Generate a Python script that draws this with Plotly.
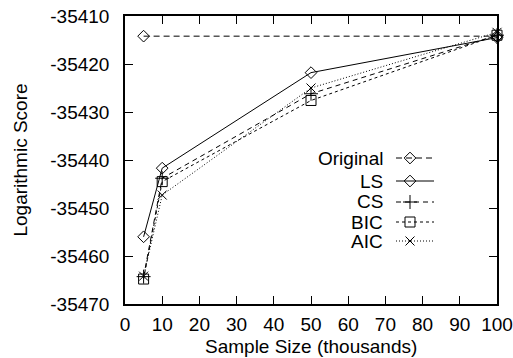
import plotly.graph_objects as go

# ---- data ----
sample_sizes = [5, 10, 50, 100]
original_x = [5, 100]
original_y = [-35414.2, -35414.2]
ls_y = [-35456.0, -35441.7, -35421.8, -35414.5]
cs_y = [-35464.3, -35443.8, -35426.2, -35414.0]
bic_y = [-35464.8, -35444.5, -35427.6, -35414.0]
aic_y = [-35464.2, -35447.3, -35425.0, -35413.4]
series_names = ["Original", "LS", "CS", "BIC", "AIC"]
x_ticks = [0, 10, 20, 30, 40, 50, 60, 70, 80, 90, 100]
y_ticks = [-35470, -35460, -35450, -35440, -35430, -35420, -35410]
y_tick_labels = ["-35470", "-35460", "-35450", "-35440", "-35430", "-35420", "-35410"]
x_title = "Sample Size (thousands)"
y_title = "Logarithmic Score"

# ---- styles ----
W, H = 513, 358
L, R, T, B = 125, 16, 16, 54
FONT = "Liberation Sans, Arial, Helvetica, sans-serif"
FS = 19
styles = {
    "Original": dict(dash="6px,4px", symbol="diamond-open", size=9),
    "LS": dict(dash="solid", symbol="diamond-open", size=9),
    "CS": dict(dash="5px,4px", symbol="cross-thin-open", size=10),
    "BIC": dict(dash="3px,3px", symbol="square-open", size=10),
    "AIC": dict(dash="1px,2px", symbol="x-thin-open", size=9),
}
data = {
    "Original": (original_x, original_y),
    "LS": (sample_sizes, ls_y),
    "CS": (sample_sizes, cs_y),
    "BIC": (sample_sizes, bic_y),
    "AIC": (sample_sizes, aic_y),
}

fig = go.Figure()
for name in series_names:
    xs, ys = data[name]
    st = styles[name]
    fig.add_trace(go.Scatter(
        x=xs, y=ys, mode="lines+markers", name=name, showlegend=False,
        line=dict(color="black", width=1, dash=st["dash"]),
        marker=dict(symbol=st["symbol"], size=st["size"], color="black",
                    line=dict(color="black", width=1)),
        cliponaxis=False,
    ))

# ---- manual gnuplot-style legend (text right, sample on right) ----
pw, ph = W - L - R, H - T - B
row_px = [158, 181, 202, 222, 241]
text_right_px = 385
samp_x0, samp_x1, samp_xm = 396, 434, 410
for name, py in zip(series_names, row_px):
    st = styles[name]
    yp = (H - B - py) / ph
    x0 = (samp_x0 - L) / pw
    x1 = (samp_x1 - L) / pw
    xm = (samp_xm - L) / pw
    fig.add_trace(go.Scatter(
        x=[x0, x1], y=[yp, yp], mode="lines", xaxis="x2", yaxis="y2",
        showlegend=False, hoverinfo="skip",
        line=dict(color="black", width=1, dash=st["dash"]),
    ))
    fig.add_trace(go.Scatter(
        x=[xm], y=[yp], mode="markers", xaxis="x2", yaxis="y2",
        showlegend=False, hoverinfo="skip",
        marker=dict(symbol=st["symbol"], size=st["size"], color="black",
                    line=dict(color="black", width=1)),
    ))
    fig.add_annotation(
        x=(text_right_px - L) / pw, y=yp, xref="paper", yref="paper",
        text=name, showarrow=False, xanchor="right", yanchor="middle",
        font=dict(family=FONT, size=FS, color="black"),
    )

# x-axis title placed like gnuplot's
fig.add_annotation(
    x=0.5, y=(H - B - 346) / ph, xref="paper", yref="paper",
    text=x_title, showarrow=False, xanchor="center", yanchor="middle",
    font=dict(family=FONT, size=FS, color="black"),
)

axis_common = dict(
    showgrid=False, zeroline=False, showline=True, linecolor="black",
    linewidth=1.5, mirror="ticks", ticks="inside", ticklen=8,
    tickwidth=1, tickcolor="black", automargin=False,
    tickfont=dict(family=FONT, size=FS, color="black"),
)

fig.update_layout(
    width=W, height=H,
    margin=dict(l=L, r=R, t=T, b=B, autoexpand=False),
    plot_bgcolor="white", paper_bgcolor="white",
    font=dict(family=FONT, size=FS, color="black"),
    xaxis=dict(range=[0, 100], tickmode="array", tickvals=x_ticks,
               ticklabelstandoff=2, **axis_common),
    yaxis=dict(range=[-35470, -35410], tickmode="array", tickvals=y_ticks,
               ticktext=y_tick_labels, ticklabelstandoff=10,
               title=dict(text=y_title, standoff=18,
                          font=dict(family=FONT, size=FS)),
               **axis_common),
    xaxis2=dict(range=[0, 1], overlaying="x", visible=False, fixedrange=True),
    yaxis2=dict(range=[0, 1], overlaying="y", visible=False, fixedrange=True),
    showlegend=False,
)

fig.write_html(
    "out.html",
    config={"displayModeBar": False},
    post_script="document.body.style.margin='0';document.body.style.overflow='hidden';",
)
